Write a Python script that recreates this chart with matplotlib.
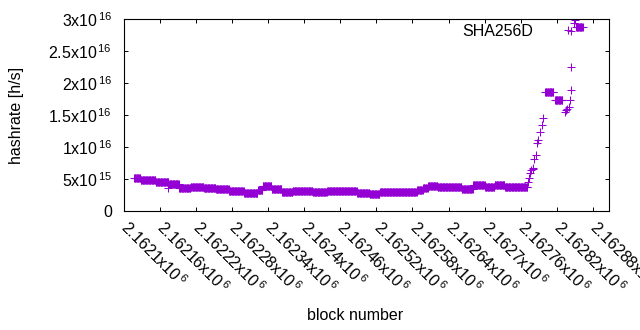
import matplotlib
matplotlib.use('Agg')
import matplotlib.pyplot as plt
import numpy as np

plt.rcParams['font.family'] = ['Liberation Sans', 'DejaVu Sans']
plt.rcParams['mathtext.fontset'] = 'custom'
plt.rcParams['mathtext.rm'] = 'Liberation Sans'
plt.rcParams['mathtext.it'] = 'Liberation Sans:italic'
plt.rcParams['mathtext.bf'] = 'Liberation Sans:bold'

# flat stretches: hashrate constant over a run of blocks
seg_start = [2162117, 2162128, 2162153, 2162175, 2162192, 2162211, 2162233, 2162253,
             2162275, 2162300, 2162323, 2162331, 2162346, 2162363, 2162381, 2162414,
             2162438, 2162464, 2162488, 2162509, 2162526, 2162554, 2162588, 2162598,
             2162606, 2162622, 2162647, 2162662, 2162681, 2162701, 2162717, 2162734,
             2162746, 2162801, 2162817, 2162852]
seg_end = [2162128, 2162153, 2162175, 2162192, 2162211, 2162233, 2162253, 2162275,
           2162300, 2162323, 2162331, 2162346, 2162363, 2162381, 2162414, 2162438,
           2162464, 2162488, 2162509, 2162526, 2162554, 2162588, 2162598, 2162606,
           2162622, 2162647, 2162662, 2162681, 2162701, 2162717, 2162734, 2162746,
           2162772, 2162815, 2162830, 2162864]
seg_value = [5.2e15, 4.9e15, 4.5e15, 4.25e15, 3.55e15, 3.75e15, 3.55e15, 3.4e15,
             3.1e15, 2.75e15, 3.3e15, 3.85e15, 3.4e15, 2.95e15, 3.2e15, 2.95e15,
             3.1e15, 3.05e15, 2.8e15, 2.65e15, 2.9e15, 3.0e15, 3.3e15, 3.65e15,
             3.9e15, 3.7e15, 3.7e15, 3.45e15, 4.05e15, 3.8e15, 4.05e15, 3.8e15,
             3.8e15, 1.855e16, 1.73e16, 2.88e16]

# isolated points (outlier, steep rise, scattered top)
pt_block = [2162173, 2162773, 2162774, 2162776, 2162778, 2162780, 2162781, 2162783,
            2162786, 2162788, 2162789, 2162792, 2162795, 2162798,
            2162833, 2162835, 2162837, 2162841, 2162842, 2162843, 2162843,
            2162844, 2162849, 2162850]
pt_value = [3.55e15, 4.6e15, 5.1e15, 5.9e15, 6.4e15, 6.55e15, 6.7e15, 8.2e15,
            8.75e15, 1.06e16, 1.11e16, 1.23e16, 1.34e16, 1.45e16,
            1.55e16, 1.58e16, 1.6e16, 1.63e16, 1.73e16, 1.89e16, 2.25e16,
            2.82e16, 2.93e16, 2.98e16]

x_ticks = [2162100, 2162160, 2162220, 2162280, 2162340, 2162400, 2162460,
           2162520, 2162580, 2162640, 2162700, 2162760, 2162820, 2162880]
x_tick_text = ['2.1621', '2.16216', '2.16222', '2.16228', '2.16234', '2.1624',
               '2.16246', '2.16252', '2.16258', '2.16264', '2.1627', '2.16276',
               '2.16282', '2.16288']
y_ticks = [0, 5e15, 1e16, 1.5e16, 2e16, 2.5e16, 3e16]
y_tick_text = ['0', r'5x10$^{\mathregular{\,15}}$', r'1x10$^{\mathregular{\,16}}$',
               r'1.5x10$^{\mathregular{\,16}}$', r'2x10$^{\mathregular{\,16}}$',
               r'2.5x10$^{\mathregular{\,16}}$', r'3x10$^{\mathregular{\,16}}$']

xs, ys = [], []
for s, e, v in zip(seg_start, seg_end, seg_value):
    b = np.arange(s, e)
    xs.extend(b)
    ys.extend([v] * len(b))
xs.extend(pt_block)
ys.extend(pt_value)

W, H = 640, 330
fs = 11.5
fig = plt.figure(figsize=(6.4, 3.3), dpi=100)
ax = fig.add_axes([124 / W, 1 - 211 / H, (609 - 124) / W, (211 - 19) / H])

purple = '#9400d3'
ax.plot(xs, ys, '+', color=purple, markersize=5.3, mew=0.75, label='SHA256D')

ax.set_xlim(2162100, 2162907)
ax.set_ylim(0, 3e16)

ax.set_xticks(x_ticks)
ax.set_xticklabels([t + r'x10$^{\mathregular{\,6}}$' for t in x_tick_text],
                   rotation=-45, ha='left', va='center', rotation_mode='anchor')
ax.set_yticks(y_ticks)
ax.set_yticklabels(y_tick_text)
ax.tick_params(direction='in', length=3.2, width=0.7, top=True, right=True,
               labelsize=fs)
ax.tick_params(axis='x', pad=9.4)
ax.tick_params(axis='y', pad=8.6)
for sp in ax.spines.values():
    sp.set_linewidth(0.8)

fig.text(17 / W, 1 - 115 / H, 'hashrate [h/s]', rotation=90, ha='center',
         va='center', fontsize=fs)
fig.text(355.5 / W, 1 - 316 / H, 'block number', ha='center', va='center',
         fontsize=fs)

ax.legend(loc='upper right', markerfirst=False, frameon=False, fontsize=fs,
          handlelength=2, handletextpad=1.17, borderaxespad=0, borderpad=0,
          bbox_to_anchor=((583.7 - 124) / (609 - 124), 1 - 4.5 / 192))

fig.savefig('out.png', dpi=100)
